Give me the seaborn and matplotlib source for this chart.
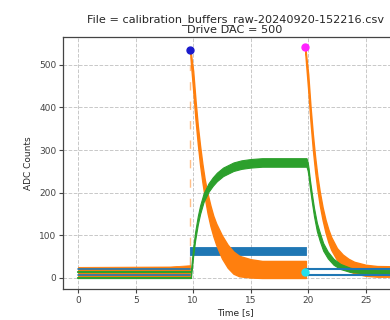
import numpy as np
import pandas as pd
import matplotlib
matplotlib.use('Agg')
import matplotlib.pyplot as plt
import seaborn as sns

sns.set_style('ticks', {'axes.grid': True, 'grid.linestyle': '--', 'grid.color': '#c8c8c8'})

# ---- values (time in s, ADC counts) ----
# orange before the first pulse: noise band
pre_t = [0.0, 8.0, 9.75]
pre_lo = [3, 3, 3]
pre_hi = [26, 27, 30]

# orange first pulse (decay) band
p1_t = [9.76, 10.0, 10.2, 10.4, 10.6, 10.8, 11.0, 11.25, 11.5, 11.75, 12.0, 12.5,
        13.0, 13.5, 14.0, 15.0, 16.0, 19.8]
p1_lo = [518, 440, 372, 315, 265, 225, 190, 152, 122, 98, 78, 46, 24, 10, 4, 1, 0, 0]
p1_hi = [535, 486, 418, 358, 310, 268, 232, 198, 170, 146, 128, 100, 78, 62, 52, 44, 40, 40]

# orange second pulse (decay) band
p2_t = [19.74, 20.0, 20.2, 20.4, 20.6, 20.8, 21.0, 21.25, 21.5, 21.75, 22.0, 22.5,
        23.0, 23.5, 24.0, 25.0, 26.0, 28.6]
p2_lo = [528, 440, 366, 302, 250, 207, 171, 136, 107, 84, 66, 42, 27, 17, 11, 5, 3, 3]
p2_hi = [542, 478, 402, 338, 284, 239, 203, 166, 137, 114, 96, 70, 55, 45, 38, 31, 28, 27]

# green: rise and plateau, then decay
g_t = [9.8, 9.9, 10.0, 10.17, 10.4, 10.6, 10.9, 11.33, 11.7, 12.06, 12.6, 13.5, 14.2,
       15.0, 16.0, 19.85, 19.95, 20.03, 20.15, 20.3, 20.5, 20.75, 21.0, 21.3, 21.7,
       22.2, 22.8, 23.65, 24.5, 28.6]
g_mid = [8, 35, 62, 98, 135, 160, 188, 212, 226, 237, 249, 261, 266,
         269, 271, 271, 262, 248, 220, 191, 155, 120, 97, 73, 54,
         38, 27, 19, 16, 15]
g_half = [8, 10, 10, 10, 10, 10, 10, 10, 10, 10, 10, 10, 10,
          10, 10, 10, 10, 10, 10, 10, 10, 10, 10, 9, 8,
          7, 6, 5, 4, 4]
g_pre_levels = [1, 15]

# blue: pulse band between the two drives, two levels otherwise
b_band_t = [9.72, 19.8]
b_band_lo = [54, 54]
b_band_hi = [72, 72]
b_levels = [6, 21]

# markers
dot_t = [9.73, 19.72, 19.72]
dot_v = [534, 541, 15]
dot_c = ['#1a1acc', '#ff22ff', '#22e0ee']

C0, C1, C2 = '#1f77b4', '#ff7f0e', '#2ca02c'

fig = plt.figure(figsize=(3.9, 3.2), dpi=100)
ax = fig.add_axes([0.162, 0.096, 0.882, 0.788])

# blue
for lv in b_levels:
    sns.lineplot(x=[0.0, 9.72], y=[lv, lv], color=C0, lw=1.2, ax=ax)
    sns.lineplot(x=[19.8, 28.6], y=[lv, lv], color=C0, lw=1.5, ax=ax)
ax.fill_between(b_band_t, b_band_lo, b_band_hi, color=C0, lw=0.6, edgecolor=C0)
sns.lineplot(x=[9.72, 9.72], y=[b_levels[1], b_band_hi[0]], color=C0, lw=1.5, ax=ax)

# orange
ax.fill_between(pre_t, pre_lo, pre_hi, color=C1, lw=0.6, edgecolor=C1)
ax.fill_between(p1_t, p1_lo, p1_hi, color=C1, lw=1.0, edgecolor=C1)
ax.fill_between(p2_t, p2_lo, p2_hi, color=C1, lw=1.0, edgecolor=C1)
ax.plot([9.72, 9.72], [30, 500], color=C1, lw=1, ls=(0, (6, 8)), alpha=0.5)

# green
for lv in g_pre_levels:
    sns.lineplot(x=[0.0, 9.8], y=[lv, lv], color=C2, lw=1.6, ax=ax)
g_mid_a = np.array(g_mid)
g_half_a = np.array(g_half)
ax.fill_between(g_t, g_mid_a - g_half_a, g_mid_a + g_half_a, color=C2, lw=0.8, edgecolor=C2)
sns.lineplot(x=[9.8, 9.8], y=[0, 10], color=C2, lw=1.6, ax=ax)

df_dots = pd.DataFrame({'t': dot_t, 'v': dot_v, 'c': dot_c})
for _, r in df_dots.iterrows():
    ax.plot(r['t'], r['v'], 'o', color=r['c'], ms=5, zorder=5)

ax.set_xlim(-1.3, 28.6)
ax.set_ylim(-26.5, 565)
ax.set_xticks([0, 5, 10, 15, 20, 25])
ax.set_yticks([0, 100, 200, 300, 400, 500])
ax.tick_params(labelsize=6.5, length=3, width=0.8, colors='#444444', pad=2)
for s in ax.spines.values():
    s.set_color('#444444')
    s.set_linewidth(0.9)
ax.grid(True, linestyle='--', color='#c8c8c8', lw=0.7)
ax.set_xlabel('Time [s]', fontsize=6.5, labelpad=2)
ax.set_ylabel('ADC Counts', fontsize=6.5, labelpad=4)
ax.set_title('File = calibration_buffers_raw-20240920-152216.csv\nDrive DAC = 500',
             fontsize=8.1, linespacing=0.95, pad=3)

fig.savefig('out.png', dpi=100)
